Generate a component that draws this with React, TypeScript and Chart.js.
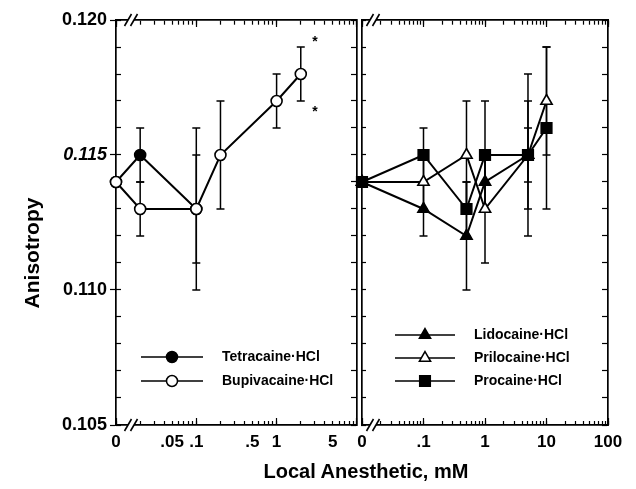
import React, { useEffect, useRef } from 'react';
import { Chart, registerables } from 'chart.js';
Chart.register(...registerables);

const FONT = "'Liberation Sans', Arial, Helvetica, sans-serif";
const INK = '#000';

// ---------- data: left panel ----------
const TETRA_X = [0, 0.02, 0.1];
const TETRA_Y = [0.114, 0.115, 0.113];
const TETRA_ERR = [0, 0.001, 0.003];
const BUPI_X = [0, 0.02, 0.1, 0.2, 1, 2];
const BUPI_Y = [0.114, 0.113, 0.113, 0.115, 0.117, 0.118];
const BUPI_ERR = [0, 0.001, 0.002, 0.002, 0.001, 0.001];

// ---------- data: right panel ----------
const LIDO_X = [0, 0.1, 0.5, 1, 5];
const LIDO_Y = [0.114, 0.113, 0.112, 0.114, 0.115];
const LIDO_ERR = [0, 0.001, 0.002, 0.001, 0.002];
const PRILO_X = [0, 0.1, 0.5, 1, 5, 10];
const PRILO_Y = [0.114, 0.114, 0.115, 0.113, 0.115, 0.117];
const PRILO_ERR = [0, 0.001, 0.002, 0.002, 0.003, 0.002];
const PROC_X = [0, 0.1, 0.5, 1, 5, 10];
const PROC_Y = [0.114, 0.115, 0.113, 0.115, 0.115, 0.116];
const PROC_ERR = [0, 0.001, 0.001, 0.002, 0.001, 0.003];

// ---------- axes ----------
const Y_MIN = 0.105;
const Y_MAX = 0.12;
const Y_STEP = 0.001;
const Y_LABEL_VALUES = [0.105, 0.11, 0.115, 0.12];
const Y_LABEL_TEXTS = ['0.105', '0.110', '0.115', '0.120'];
const Y_ITALIC_VALUE = 0.115;

const LEFT_X_MIN = 0.01;
const LEFT_X_MAX = 10;
const LEFT_DECADES = [0.01, 0.1, 1];
const LEFT_LABEL_VALUES = [0.01, 0.05, 0.1, 0.5, 1, 5];
const LEFT_LABEL_TEXTS = ['0', '.05', '.1', '.5', '1', '5'];

const RIGHT_X_MIN = 0.01;
const RIGHT_X_MAX = 100;
const RIGHT_DECADES = [0.01, 0.1, 1, 10];
const RIGHT_LABEL_VALUES = [0.01, 0.1, 1, 10, 100];
const RIGHT_LABEL_TEXTS = ['0', '.1', '1', '10', '100'];

const MANTISSAS = [1, 2, 3, 4, 5, 6, 7, 8, 9];

// significance marks next to the last bupivacaine point
const STAR_X = [3, 3];
const STAR_Y = [0.1193, 0.1167];

// ---------- helpers ----------
const nearLog = (a: number, b: number) => Math.abs(Math.log10(a) - Math.log10(b)) < 1e-6;
const nearLin = (a: number, b: number) => Math.abs(a - b) < 1e-7;

function yTickValues() {
  const n = Math.round((Y_MAX - Y_MIN) / Y_STEP);
  const out: number[] = [];
  for (let i = 0; i <= n; i++) out.push(Number((Y_MIN + i * Y_STEP).toFixed(4)));
  return out;
}

function drawMarker(ctx: CanvasRenderingContext2D, shape: string, x: number, y: number, r: number, fill: string) {
  ctx.beginPath();
  if (shape === 'circle') {
    ctx.arc(x, y, r, 0, Math.PI * 2);
  } else if (shape === 'triangle') {
    let a = 0;
    ctx.moveTo(x + Math.sin(a) * r, y - Math.cos(a) * r);
    a += (2 * Math.PI) / 3;
    ctx.lineTo(x + Math.sin(a) * r, y - Math.cos(a) * r);
    a += (2 * Math.PI) / 3;
    ctx.lineTo(x + Math.sin(a) * r, y - Math.cos(a) * r);
    ctx.closePath();
  } else {
    const s = r * Math.SQRT1_2;
    ctx.rect(x - s, y - s, 2 * s, 2 * s);
  }
  ctx.fillStyle = fill;
  ctx.fill();
  ctx.lineWidth = 1.5;
  ctx.strokeStyle = INK;
  ctx.stroke();
}

const errorBarPlugin = {
  id: 'errorBars',
  beforeDatasetsDraw(chart: any) {
    const { ctx } = chart;
    const xs = chart.scales.x;
    const ys = chart.scales.y;
    ctx.save();
    ctx.strokeStyle = INK;
    ctx.lineWidth = 1.5;
    chart.data.datasets.forEach((ds: any) => {
      const errs: number[] = ds.errorBars || [];
      ds.data.forEach((p: any, i: number) => {
        const e = errs[i];
        if (!e) return;
        const px = xs.getPixelForValue(p.x);
        const top = ys.getPixelForValue(p.y + e);
        const bot = ys.getPixelForValue(p.y - e);
        ctx.beginPath();
        ctx.moveTo(px, top);
        ctx.lineTo(px, bot);
        ctx.moveTo(px - 4, top);
        ctx.lineTo(px + 4, top);
        ctx.moveTo(px - 4, bot);
        ctx.lineTo(px + 4, bot);
        ctx.stroke();
      });
    });
    ctx.restore();
  },
};

const decorPlugin = {
  id: 'decor',
  afterDraw(chart: any) {
    const opts = chart.options.plugins.decor || {};
    const { ctx, chartArea } = chart;
    ctx.save();
    // axis breaks
    const cx = chartArea.left + (opts.breakOffset || 12);
    [chartArea.top, chartArea.bottom].forEach((y: number) => {
      ctx.fillStyle = '#fff';
      ctx.fillRect(cx - 3, y - 2.5, 6, 5);
      ctx.strokeStyle = INK;
      ctx.lineWidth = 1.6;
      [-3, 3].forEach((dx) => {
        ctx.beginPath();
        ctx.moveTo(cx + dx - 3.5, y + 6);
        ctx.lineTo(cx + dx + 3.5, y - 6);
        ctx.stroke();
      });
    });
    // legend
    const lg = opts.legend;
    if (lg) {
      lg.order.forEach((di: number, row: number) => {
        const ds = chart.data.datasets[di];
        const y = chartArea.top + lg.top + row * lg.gap;
        const x0 = chartArea.left + lg.left;
        ctx.strokeStyle = INK;
        ctx.lineWidth = 1.6;
        ctx.beginPath();
        ctx.moveTo(x0, y);
        ctx.lineTo(x0 + lg.lineLen, y);
        ctx.stroke();
        drawMarker(ctx, ds.pointStyle, x0 + lg.lineLen / 2, y, ds.pointRadius, ds.pointBackgroundColor);
        ctx.fillStyle = INK;
        ctx.font = `bold 14px ${FONT}`;
        ctx.textAlign = 'left';
        ctx.textBaseline = 'middle';
        ctx.fillText(ds.label, chartArea.left + lg.textLeft, y);
      });
    }
    // asterisks
    if (opts.stars) {
      ctx.fillStyle = INK;
      ctx.font = `bold 14px ${FONT}`;
      ctx.textAlign = 'center';
      ctx.textBaseline = 'middle';
      opts.stars.xs.forEach((sx: number, i: number) => {
        ctx.fillText('*', chart.scales.x.getPixelForValue(sx), chart.scales.y.getPixelForValue(opts.stars.ys[i]) + 3);
      });
    }
    ctx.restore();
  },
};

function series(label: string, xs: number[], ys: number[], errs: number[], shape: string, r: number, fill: string, xMin: number) {
  return {
    type: 'line',
    label,
    data: xs.map((x, i) => ({ x: x === 0 ? xMin : x, y: ys[i] })),
    errorBars: errs,
    borderColor: INK,
    borderWidth: 2,
    backgroundColor: fill,
    pointBackgroundColor: fill,
    pointBorderColor: INK,
    pointBorderWidth: 1.6,
    pointStyle: shape,
    pointRadius: r,
    pointHoverRadius: r,
    tension: 0,
    fill: false,
    clip: false,
    xAxisID: 'x',
    yAxisID: 'y',
  };
}

function buildScales(xMin: number, xMax: number, decades: number[], labelVals: number[], labelTexts: string[], isLeft: boolean) {
  const minor = decades.flatMap((d) => MANTISSAS.map((m) => Number((m * d).toPrecision(6)))).concat([xMax]);
  const major = decades.concat([xMax]);
  const yVals = yTickValues();
  const setTicks = (vals: number[]) => (scale: any) => {
    scale.ticks = vals.map((v) => ({ value: v }));
  };
  const tickGrid = (len: number) => ({ drawOnChartArea: false, drawTicks: true, tickLength: len, tickColor: INK, tickWidth: 1.2 });
  const frame = { display: true, color: INK, width: 1.7 };
  const noBorder = { display: false };
  const hidden = { display: false };
  const zeroH = (s: any) => { s.height = 0; };
  const zeroW = (s: any) => { s.width = 0; };
  const logBase = { type: 'logarithmic', axis: 'x', min: xMin, max: xMax };
  const linBase = { type: 'linear', axis: 'y', min: Y_MIN, max: Y_MAX };
  const xLabel = (v: any) => {
    const i = labelVals.findIndex((l) => nearLog(l, Number(v)));
    return i >= 0 ? labelTexts[i] : '';
  };
  const yLabel = (v: any) => {
    const i = Y_LABEL_VALUES.findIndex((l) => nearLin(l, Number(v)));
    return i >= 0 ? Y_LABEL_TEXTS[i] : '';
  };
  const isYLabel = (v: number) => Y_LABEL_VALUES.some((l) => nearLin(l, v));

  const scales: any = {
    x: {
      ...logBase,
      position: 'bottom',
      afterBuildTicks: setTicks(minor),
      grid: { drawOnChartArea: false, drawTicks: false },
      border: frame,
      ticks: {
        autoSkip: false,
        maxRotation: 0,
        minRotation: 0,
        padding: 7,
        color: INK,
        font: { family: FONT, size: 17, weight: 'bold' },
        callback: xLabel,
      },
      afterFit: (s: any) => { s.height = 64; },
    },
    xBotMinor: { ...logBase, position: { y: Y_MIN }, afterBuildTicks: setTicks(minor), grid: tickGrid(-4), border: noBorder, ticks: hidden, afterFit: zeroH },
    xBotMajor: { ...logBase, position: { y: Y_MIN }, afterBuildTicks: setTicks(major), grid: tickGrid(-7), border: noBorder, ticks: hidden, afterFit: zeroH },
    xTopMinor: { ...logBase, position: { y: Y_MAX }, afterBuildTicks: setTicks(minor), grid: tickGrid(4), border: frame, ticks: hidden, afterFit: zeroH },
    xTopMajor: { ...logBase, position: { y: Y_MAX }, afterBuildTicks: setTicks(major), grid: tickGrid(7), border: noBorder, ticks: hidden, afterFit: zeroH },
    y: isLeft
      ? {
          ...linBase,
          position: 'left',
          afterBuildTicks: setTicks(yVals),
          grid: {
            drawOnChartArea: false,
            drawTicks: true,
            tickLength: 6,
            tickWidth: 1.2,
            tickColor: (c: any) => (c.tick && isYLabel(c.tick.value) ? INK : 'rgba(0,0,0,0)'),
          },
          border: frame,
          ticks: {
            padding: 3,
            color: INK,
            font: (c: any) => ({
              family: FONT,
              size: 18,
              weight: 'bold',
              style: c.tick && nearLin(c.tick.value, Y_ITALIC_VALUE) ? 'italic' : 'normal',
            }),
            callback: yLabel,
          },
          afterFit: (s: any) => { s.width = 116; },
        }
      : { ...linBase, display: false },
    yLeftIn: { ...linBase, position: { x: xMin }, afterBuildTicks: setTicks(yVals), grid: tickGrid(-5), border: isLeft ? noBorder : frame, ticks: hidden, afterFit: zeroW },
    yRightIn: { ...linBase, position: { x: xMax }, afterBuildTicks: setTicks(yVals), grid: tickGrid(5), border: frame, ticks: hidden, afterFit: zeroW },
  };
  return scales;
}

function leftConfig(): any {
  return {
    type: 'line',
    data: {
      datasets: [
        series('Bupivacaine·HCl', BUPI_X, BUPI_Y, BUPI_ERR, 'circle', 5.5, '#fff', LEFT_X_MIN),
        series('Tetracaine·HCl', TETRA_X, TETRA_Y, TETRA_ERR, 'circle', 5.5, '#000', LEFT_X_MIN),
      ],
    },
    options: {
      animation: false,
      responsive: false,
      events: [],
      layout: { padding: { top: 20, left: 0, right: 2, bottom: 0 } },
      scales: buildScales(LEFT_X_MIN, LEFT_X_MAX, LEFT_DECADES, LEFT_LABEL_VALUES, LEFT_LABEL_TEXTS, true),
      plugins: {
        legend: { display: false },
        tooltip: { enabled: false },
        decor: {
          breakOffset: 15,
          legend: { order: [1, 0], left: 25, lineLen: 62, textLeft: 106, top: 337, gap: 24 },
          stars: { xs: STAR_X, ys: STAR_Y },
        },
      },
    },
    plugins: [errorBarPlugin, decorPlugin],
  };
}

function rightConfig(): any {
  return {
    type: 'line',
    data: {
      datasets: [
        series('Procaine·HCl', PROC_X, PROC_Y, PROC_ERR, 'rect', 7.5, '#000', RIGHT_X_MIN),
        series('Prilocaine·HCl', PRILO_X, PRILO_Y, PRILO_ERR, 'triangle', 6.5, '#fff', RIGHT_X_MIN),
        series('Lidocaine·HCl', LIDO_X, LIDO_Y, LIDO_ERR, 'triangle', 6.5, '#000', RIGHT_X_MIN),
      ],
    },
    options: {
      animation: false,
      responsive: false,
      events: [],
      layout: { padding: { top: 20, left: 22, right: 28, bottom: 0 } },
      scales: buildScales(RIGHT_X_MIN, RIGHT_X_MAX, RIGHT_DECADES, RIGHT_LABEL_VALUES, RIGHT_LABEL_TEXTS, false),
      plugins: {
        legend: { display: false },
        tooltip: { enabled: false },
        decor: {
          breakOffset: 11,
          legend: { order: [2, 1, 0], left: 33, lineLen: 60, textLeft: 112, top: 315, gap: 23 },
        },
      },
    },
    plugins: [errorBarPlugin, decorPlugin],
  };
}

export default function App() {
  const leftRef = useRef<HTMLCanvasElement>(null);
  const rightRef = useRef<HTMLCanvasElement>(null);
  useEffect(() => {
    Chart.defaults.font.family = FONT;
    const c1 = new Chart(leftRef.current as HTMLCanvasElement, leftConfig());
    const c2 = new Chart(rightRef.current as HTMLCanvasElement, rightConfig());
    return () => {
      c1.destroy();
      c2.destroy();
    };
  }, []);
  return (
    <div style={{ position: 'absolute', left: 0, top: 0, width: 636, height: 489, background: '#fff', overflow: 'hidden' }}>
      <canvas ref={leftRef} width={364} height={489} style={{ position: 'absolute', left: 0, top: 0 }} />
      <canvas ref={rightRef} width={296} height={489} style={{ position: 'absolute', left: 340, top: 0 }} />
      <div
        style={{
          position: 'absolute',
          left: 216,
          top: 460,
          width: 300,
          height: 24,
          lineHeight: '24px',
          textAlign: 'center',
          font: `bold 20px ${FONT}`,
          color: INK,
        }}
      >
        Local Anesthetic, mM
      </div>
      <div
        style={{
          position: 'absolute',
          left: -67,
          top: 240,
          width: 200,
          height: 26,
          lineHeight: '26px',
          textAlign: 'center',
          font: `bold 21px ${FONT}`,
          color: INK,
          transform: 'rotate(-90deg)',
          transformOrigin: '50% 50%',
        }}
      >
        Anisotropy
      </div>
    </div>
  );
}
